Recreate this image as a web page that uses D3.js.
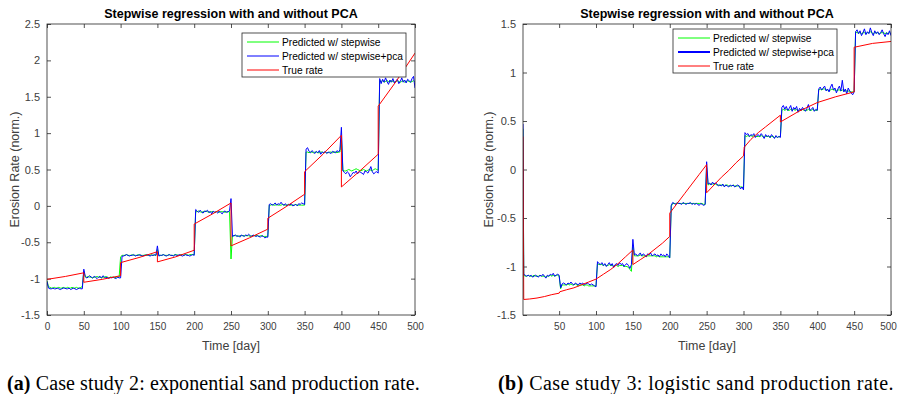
<!DOCTYPE html>
<html>
<head>
<meta charset="utf-8">
<script src="https://cdn.jsdelivr.net/npm/d3@7"></script>
<style>
  body { margin: 0; background: #fff; }
  svg { display: block; }
</style>
</head>
<body>
<svg id="fig" width="899" height="394"></svg>
<script>
// ---------------- Case study 2: exponential sand production ----------------
// Predictions sampled every 2 days, day 0 … 500 (one row per 50-day block).
const expDays = d3.range(0, 501, 2);

const expStepwise = [
  -1.03,-1.11,-1.12,-1.13,-1.13,-1.12,-1.13,-1.13,-1.12,-1.13,-1.13,-1.12,-1.13,-1.13,-1.12,-1.13,-1.13,-1.12,-1.13,-1.13,-1.12,-1.13,-1.13,-1.12,-1.11,
  -0.90,-0.98,-0.98,-0.97,-0.98,-0.98,-0.99,-0.98,-0.98,-0.97,-0.98,-0.98,-0.99,-0.98,-0.98,-0.97,-0.98,-0.99,-0.98,-0.98,-0.98,-0.99,-0.98,-0.98,-0.98,
  -0.70,-0.68,-0.68,-0.68,-0.67,-0.68,-0.68,-0.68,-0.67,-0.68,-0.68,-0.68,-0.67,-0.68,-0.68,-0.68,-0.68,-0.67,-0.68,-0.68,-0.68,-0.67,-0.68,-0.68,-0.68,
  -0.60,-0.68,-0.68,-0.68,-0.67,-0.68,-0.68,-0.68,-0.67,-0.68,-0.68,-0.68,-0.67,-0.67,-0.68,-0.68,-0.67,-0.67,-0.68,-0.67,-0.67,-0.68,-0.67,-0.67,-0.67,
  -0.67,-0.08,-0.08,-0.07,-0.08,-0.09,-0.08,-0.08,-0.07,-0.08,-0.09,-0.08,-0.08,-0.08,-0.09,-0.08,-0.08,-0.09,-0.08,-0.08,-0.08,-0.09,-0.08,-0.08,-0.08,
  -0.73,-0.41,-0.41,-0.41,-0.41,-0.42,-0.41,-0.41,-0.41,-0.41,-0.41,-0.41,-0.41,-0.42,-0.41,-0.41,-0.41,-0.41,-0.41,-0.42,-0.41,-0.41,-0.42,-0.42,-0.42,
  -0.42, 0.01, 0.01, 0.02, 0.01, 0.01, 0.02, 0.01, 0.01, 0.01, 0.02, 0.01, 0.01, 0.01, 0.02, 0.01, 0.01, 0.01, 0.01, 0.02, 0.01, 0.01, 0.01, 0.01, 0.01,
   0.01, 0.74, 0.74, 0.73, 0.74, 0.74, 0.73, 0.74, 0.74, 0.73, 0.73, 0.74, 0.74, 0.73, 0.74, 0.73, 0.73, 0.74, 0.74, 0.73, 0.74, 0.74, 0.73, 0.74, 0.74,
   0.95, 0.49, 0.48, 0.48, 0.49, 0.50, 0.49, 0.48, 0.49, 0.50, 0.51, 0.50, 0.49, 0.48, 0.49, 0.50, 0.49, 0.48, 0.49, 0.50, 0.49, 0.48, 0.50, 0.51, 0.50,
   0.49, 1.72, 1.71, 1.72, 1.70, 1.71, 1.72, 1.71, 1.70, 1.72, 1.71, 1.70, 1.71, 1.72, 1.71, 1.70, 1.71, 1.72, 1.70, 1.71, 1.72, 1.71, 1.70, 1.71, 1.72,
   1.70
];

const expStepwisePca = [
  -1.04,-1.13,-1.14,-1.14,-1.13,-1.14,-1.14,-1.13,-1.14,-1.15,-1.14,-1.13,-1.13,-1.14,-1.14,-1.13,-1.15,-1.14,-1.13,-1.14,-1.15,-1.14,-1.13,-1.14,-1.14,
  -0.87,-0.97,-0.99,-0.98,-0.96,-0.98,-0.99,-0.97,-0.98,-1.00,-0.98,-0.97,-0.99,-0.96,-0.98,-0.99,-0.98,-1.00,-0.98,-0.99,-0.98,-0.99,-1.00,-0.98,-0.99,
  -0.99,-0.69,-0.69,-0.68,-0.67,-0.68,-0.69,-0.68,-0.68,-0.67,-0.69,-0.68,-0.68,-0.67,-0.68,-0.69,-0.68,-0.68,-0.67,-0.68,-0.69,-0.68,-0.68,-0.67,-0.68,
  -0.55,-0.69,-0.68,-0.68,-0.67,-0.68,-0.69,-0.68,-0.67,-0.68,-0.68,-0.69,-0.67,-0.68,-0.68,-0.67,-0.68,-0.69,-0.68,-0.67,-0.68,-0.68,-0.69,-0.68,-0.67,
  -0.68,-0.05,-0.07,-0.09,-0.06,-0.08,-0.10,-0.07,-0.08,-0.06,-0.09,-0.08,-0.11,-0.07,-0.09,-0.08,-0.10,-0.07,-0.09,-0.11,-0.08,-0.07,-0.09,-0.08,-0.07,
   0.10,-0.42,-0.41,-0.40,-0.42,-0.41,-0.43,-0.40,-0.41,-0.42,-0.40,-0.41,-0.39,-0.41,-0.42,-0.40,-0.41,-0.42,-0.41,-0.42,-0.43,-0.41,-0.42,-0.44,-0.43,
  -0.43, 0.02, 0.03, 0.01, 0.02, 0.04, 0.01, 0.03, 0.02, 0.05, 0.02, 0.01, 0.03, 0.00, 0.02, 0.01, 0.03, 0.00, 0.01, 0.02, 0.00, 0.03, 0.02, 0.04, 0.03,
   0.02, 0.78, 0.80, 0.75, 0.73, 0.76, 0.74, 0.72, 0.75, 0.73, 0.76, 0.71, 0.74, 0.73, 0.75, 0.72, 0.74, 0.73, 0.72, 0.75, 0.74, 0.73, 0.76, 0.74, 0.77,
   1.08, 0.48, 0.46, 0.44, 0.47, 0.45, 0.40, 0.43, 0.46, 0.45, 0.48, 0.44, 0.47, 0.46, 0.45, 0.43, 0.48, 0.47, 0.45, 0.49, 0.54, 0.47, 0.44, 0.46, 0.47,
   0.45, 1.75, 1.68, 1.74, 1.70, 1.76, 1.71, 1.67, 1.73, 1.70, 1.75, 1.69, 1.72, 1.74, 1.68, 1.71, 1.76, 1.70, 1.73, 1.69, 1.74, 1.72, 1.70, 1.75, 1.78,
   1.62
];

// True rate: each production interval restarts at the change-over days.
const expTrueDays = [0, 25, 50, 50, 75, 100, 100, 125, 150, 150, 175, 200, 200, 225, 250,
                     250, 275, 300, 300, 325, 350, 350, 375, 400, 400, 425, 450, 450, 475, 500];
const expTrueRate = [-1.01, -0.97, -0.92, -1.05, -1.01, -0.96, -0.78, -0.71, -0.63, -0.77, -0.70, -0.61,
                     -0.25, -0.11, 0.04, -0.55, -0.44, -0.32, -0.17, -0.01, 0.16, 0.47, 0.71, 0.97,
                     0.26, 0.48, 0.71, 1.37, 1.72, 2.10];

const expXTicks = [0, 50, 100, 150, 200, 250, 300, 350, 400, 450, 500];
const expYTicks = [-1.5, -1, -0.5, 0, 0.5, 1, 1.5, 2, 2.5];

// ---------------- Case study 3: logistic sand production ----------------
// Day 1, then every 2 days from day 2 to 500 (one row per 50-day block).
const logDays = [1].concat(d3.range(2, 501, 2));

const logStepwise = [
   0.42,
  -1.09,-1.10,-1.10,-1.09,-1.10,-1.10,-1.10,-1.09,-1.10,-1.10,-1.10,-1.09,-1.10,-1.10,-1.10,-1.11,-1.10,-1.10,-1.09,-1.10,-1.09,-1.10,-1.09,-1.09,-1.10,
  -1.23,-1.19,-1.19,-1.19,-1.19,-1.18,-1.19,-1.18,-1.19,-1.19,-1.18,-1.19,-1.20,-1.19,-1.19,-1.19,-1.20,-1.19,-1.19,-1.20,-1.20,-1.20,-1.20,-1.20,-1.20,
  -0.97,-0.98,-0.98,-0.98,-0.99,-0.98,-0.99,-0.99,-0.98,-0.99,-0.99,-1.00,-0.99,-0.99,-1.00,-0.99,-0.99,-0.99,-1.00,-1.00,-1.00,-1.01,-1.03,-1.05,-0.80,
  -0.89,-0.89,-0.89,-0.89,-0.88,-0.89,-0.89,-0.89,-0.90,-0.89,-0.89,-0.89,-0.89,-0.89,-0.89,-0.90,-0.89,-0.90,-0.90,-0.90,-0.90,-0.90,-0.90,-0.90,-0.91,
  -0.38,-0.35,-0.35,-0.35,-0.35,-0.35,-0.35,-0.35,-0.35,-0.35,-0.35,-0.35,-0.35,-0.35,-0.35,-0.35,-0.35,-0.35,-0.35,-0.35,-0.35,-0.35,-0.36,-0.36, 0.02,
  -0.16,-0.15,-0.15,-0.15,-0.15,-0.15,-0.16,-0.16,-0.16,-0.16,-0.16,-0.17,-0.16,-0.16,-0.17,-0.17,-0.17,-0.16,-0.17,-0.17,-0.17,-0.17,-0.18,-0.18,-0.19,
   0.35, 0.34, 0.35, 0.34, 0.35, 0.34, 0.35, 0.34, 0.34, 0.34, 0.34, 0.35, 0.34, 0.33, 0.34, 0.34, 0.34, 0.33, 0.34, 0.34, 0.33, 0.34, 0.33, 0.34, 0.34,
   0.61, 0.62, 0.61, 0.62, 0.61, 0.61, 0.62, 0.61, 0.62, 0.61, 0.62, 0.60, 0.61, 0.61, 0.62, 0.61, 0.61, 0.61, 0.62, 0.61, 0.61, 0.62, 0.61, 0.61, 0.61,
   0.82, 0.83, 0.82, 0.83, 0.83, 0.82, 0.82, 0.81, 0.82, 0.83, 0.82, 0.82, 0.81, 0.82, 0.82, 0.81, 0.82, 0.81, 0.81, 0.81, 0.81, 0.80, 0.80, 0.80, 0.80,
   1.42, 1.41, 1.41, 1.41, 1.40, 1.41, 1.41, 1.40, 1.41, 1.41, 1.42, 1.41, 1.40, 1.41, 1.41, 1.41, 1.40, 1.41, 1.41, 1.41, 1.40, 1.41, 1.40, 1.41, 1.40
];

const logStepwisePca = [
   0.47,
  -1.08,-1.09,-1.10,-1.09,-1.10,-1.09,-1.11,-1.10,-1.09,-1.10,-1.11,-1.09,-1.10,-1.08,-1.10,-1.12,-1.09,-1.10,-1.08,-1.09,-1.07,-1.10,-1.09,-1.08,-1.09,
  -1.22,-1.18,-1.17,-1.18,-1.19,-1.17,-1.18,-1.16,-1.18,-1.19,-1.17,-1.18,-1.19,-1.17,-1.18,-1.17,-1.19,-1.18,-1.17,-1.18,-1.19,-1.18,-1.19,-1.20,-1.21,
  -0.95,-0.97,-0.98,-0.96,-0.99,-0.97,-1.00,-0.98,-0.96,-0.99,-0.97,-1.01,-0.98,-0.97,-0.99,-0.96,-0.98,-0.97,-1.00,-0.98,-0.97,-0.99,-1.02,-0.98,-0.72,
  -0.88,-0.87,-0.89,-0.88,-0.86,-0.89,-0.87,-0.88,-0.90,-0.87,-0.88,-0.86,-0.89,-0.88,-0.87,-0.89,-0.88,-0.90,-0.87,-0.89,-0.88,-0.90,-0.87,-0.89,-0.91,
  -0.37,-0.34,-0.35,-0.36,-0.34,-0.35,-0.35,-0.36,-0.34,-0.35,-0.36,-0.35,-0.35,-0.34,-0.36,-0.35,-0.36,-0.35,-0.36,-0.37,-0.35,-0.36,-0.37,-0.36, 0.08,
  -0.15,-0.14,-0.16,-0.13,-0.15,-0.14,-0.15,-0.17,-0.16,-0.17,-0.15,-0.18,-0.16,-0.17,-0.18,-0.16,-0.17,-0.16,-0.18,-0.17,-0.16,-0.17,-0.20,-0.18,-0.21,
   0.38, 0.36, 0.37, 0.34, 0.36, 0.35, 0.37, 0.33, 0.35, 0.36, 0.34, 0.37, 0.35, 0.32, 0.36, 0.34, 0.35, 0.33, 0.36, 0.34, 0.32, 0.35, 0.33, 0.34, 0.33,
   0.64, 0.66, 0.62, 0.65, 0.61, 0.63, 0.66, 0.60, 0.64, 0.62, 0.65, 0.59, 0.63, 0.61, 0.64, 0.62, 0.60, 0.63, 0.67, 0.61, 0.62, 0.64, 0.60, 0.62, 0.61,
   0.83, 0.85, 0.82, 0.84, 0.86, 0.81, 0.83, 0.80, 0.85, 0.88, 0.82, 0.84, 0.79, 0.83, 0.86, 0.81, 0.92, 0.80, 0.83, 0.78, 0.84, 0.81, 0.79, 0.77, 0.80,
   1.42, 1.44, 1.40, 1.43, 1.38, 1.41, 1.45, 1.39, 1.42, 1.40, 1.46, 1.41, 1.38, 1.43, 1.40, 1.42, 1.39, 1.41, 1.44, 1.40, 1.37, 1.41, 1.39, 1.43, 1.38
];

const logTrueDays = [1, 2, 10, 20, 30, 40, 50, 51, 60, 70, 80, 90, 100, 110, 120, 130, 140, 150,
                     150, 160, 170, 180, 190, 200, 200, 210, 220, 230, 240, 250, 250, 260, 270, 280,
                     290, 300, 301, 310, 320, 330, 340, 350, 350, 375, 400, 425, 450, 450, 475, 500];
const logTrueRate = [0.34, -1.34, -1.335, -1.325, -1.31, -1.29, -1.275, -1.26, -1.24, -1.22, -1.19,
                     -1.16, -1.13, -1.08, -1.03, -0.97, -0.90, -0.83, -0.98, -0.93, -0.88, -0.82,
                     -0.76, -0.69, -0.45, -0.35, -0.25, -0.15, -0.05, 0.05, -0.24, -0.16, -0.08,
                     -0.01, 0.07, 0.14, 0.23, 0.31, 0.38, 0.44, 0.50, 0.56, 0.49, 0.60, 0.69,
                     0.75, 0.80, 1.26, 1.30, 1.32];

const logXTicks = [50, 100, 150, 200, 250, 300, 350, 400, 450, 500];
const logYTicks = [-1.5, -1, -0.5, 0, 0.5, 1, 1.5];

// ---------------- Shared text ----------------
const panelTitle = "Stepwise regression with and without PCA";
const xLabel = "Time [day]";
const yLabel = "Erosion Rate (norm.)";
const seriesNames = ["Predicted w/ stepwise", "Predicted w/ stepwise+pca", "True rate"];
const seriesColors = ["#00ff00", "#0000ff", "#ff0000"];

// ---------------- Drawing ----------------
const svg = d3.select("#fig");
const axisColor = "#262626";
const labelColor = "#404040";
const sans = "'Liberation Sans', Arial, sans-serif";

function drawPanel(opt) {
  const { left, right, top, bottom } = opt.box;
  const x = d3.scaleLinear().domain(opt.xDomain).range([left, right]);
  const y = d3.scaleLinear().domain(opt.yDomain).range([bottom, top]);
  const g = svg.append("g");

  const fmt = d => String(d);
  const tick = 4;

  const axes = [
    { a: d3.axisBottom(x).tickValues(opt.xTicks).tickFormat(fmt), t: `translate(0,${bottom})`, pad: 8, fs: 10 },
    { a: d3.axisTop(x).tickValues(opt.xTicks).tickFormat(""), t: `translate(0,${top})`, pad: 0, fs: 10 },
    { a: d3.axisLeft(y).tickValues(opt.yTicks).tickFormat(fmt), t: `translate(${left},0)`, pad: 7, fs: 11 },
    { a: d3.axisRight(y).tickValues(opt.yTicks).tickFormat(""), t: `translate(${right},0)`, pad: 0, fs: 11 }
  ];
  axes.forEach((ax, k) => {
    const ag = g.append("g").attr("transform", ax.t)
      .call(ax.a.tickSizeInner(-tick).tickSizeOuter(0).tickPadding(ax.pad));
    ag.select(".domain").remove();
    ag.selectAll("line").attr("stroke", axisColor).attr("stroke-width", 0.8);
    ag.selectAll("text").attr("fill", labelColor)
      .style("font-family", sans).style("font-size", ax.fs + "px");
    if (k === 0 && opt.lastXLabelShift) {
      ag.selectAll(".tick text").filter(d => d === opt.xTicks[opt.xTicks.length - 1])
        .attr("dx", opt.lastXLabelShift);
    }
  });

  // clip for data lines
  const clipId = "clip-" + opt.id;
  svg.append("clipPath").attr("id", clipId)
    .append("rect").attr("x", left).attr("y", top)
    .attr("width", right - left).attr("height", bottom - top);

  const line = d3.line().x(d => x(d[0])).y(d => y(d[1]));
  const series = [
    d3.zip(opt.days, opt.stepwise),
    d3.zip(opt.days, opt.stepwisePca),
    d3.zip(opt.trueDays, opt.trueRate)
  ];
  const lg = g.append("g").attr("clip-path", `url(#${clipId})`);
  series.forEach((s, i) => {
    lg.append("path").datum(s)
      .attr("d", line)
      .attr("fill", "none")
      .attr("stroke", seriesColors[i])
      .attr("stroke-width", 1)
      .attr("stroke-linejoin", "round");
  });

  // plot frame
  g.append("rect")
    .attr("x", left).attr("y", top)
    .attr("width", right - left).attr("height", bottom - top)
    .attr("fill", "none").attr("stroke", axisColor).attr("stroke-width", 0.8);

  // title
  g.append("text")
    .attr("x", (left + right) / 2).attr("y", top - 6.5)
    .attr("text-anchor", "middle")
    .style("font-family", sans).style("font-size", "12.5px").style("font-weight", "bold")
    .attr("fill", "#000")
    .text(panelTitle);

  // axis labels
  g.append("text")
    .attr("x", (left + right) / 2).attr("y", bottom + 35)
    .attr("text-anchor", "middle")
    .style("font-family", sans).style("font-size", "12.5px")
    .attr("fill", labelColor)
    .text(xLabel);

  g.append("text")
    .attr("transform", `translate(${opt.yLabelX},${(top + bottom) / 2}) rotate(-90)`)
    .attr("text-anchor", "middle")
    .style("font-family", sans).style("font-size", "12.5px")
    .attr("fill", labelColor)
    .text(yLabel);

  // legend
  const L = opt.legend;
  const leg = g.append("g").attr("transform", `translate(${L.x},${L.y})`);
  leg.append("rect")
    .attr("width", L.w).attr("height", L.h)
    .attr("fill", "#fff").attr("stroke", axisColor).attr("stroke-width", 0.8);
  seriesNames.forEach((name, i) => {
    const cy = 9 + i * 14;
    leg.append("line")
      .attr("x1", 5).attr("x2", 37).attr("y1", cy).attr("y2", cy)
      .attr("stroke", seriesColors[i])
      .attr("stroke-width", L.widths[i]);
    leg.append("text")
      .attr("x", 40).attr("y", cy).attr("dy", "0.35em")
      .style("font-family", sans).style("font-size", "10.2px")
      .attr("fill", "#000")
      .text(name);
  });

  // caption
  const cap = svg.append("text")
    .attr("x", opt.caption.x).attr("y", 390)
    .style("font-family", "'Liberation Serif', 'Times New Roman', serif")
    .style("font-size", "20px")
    .style("letter-spacing", opt.caption.spacing + "px")
    .attr("fill", "#000");
  cap.append("tspan").style("font-weight", "bold").text(opt.caption.tag);
  cap.append("tspan").text(" " + opt.caption.text);
}

drawPanel({
  id: "a",
  box: { left: 47, right: 415, top: 24, bottom: 315 },
  xDomain: [0, 500], yDomain: [-1.5, 2.5],
  xTicks: expXTicks, yTicks: expYTicks,
  days: expDays, stepwise: expStepwise, stepwisePca: expStepwisePca,
  trueDays: expTrueDays, trueRate: expTrueRate,
  yLabelX: 18.5,
  legend: { x: 242, y: 33, w: 164, h: 44, widths: [1, 1, 1] },
  caption: { x: 7, spacing: 0.1, tag: "(a)", text: "Case study 2: exponential sand production rate." }
});

drawPanel({
  id: "b",
  box: { left: 523, right: 891, top: 24, bottom: 315 },
  xDomain: [1, 500], yDomain: [-1.5, 1.5],
  xTicks: logXTicks, yTicks: logYTicks,
  days: logDays, stepwise: logStepwise, stepwisePca: logStepwisePca,
  trueDays: logTrueDays, trueRate: logTrueRate,
  yLabelX: 492.5,
  lastXLabelShift: -3,
  legend: { x: 673, y: 29, w: 164, h: 44, widths: [1, 2, 1] },
  caption: { x: 498, spacing: 0.45, tag: "(b)", text: "Case study 3: logistic sand production rate." }
});
</script>
</body>
</html>
